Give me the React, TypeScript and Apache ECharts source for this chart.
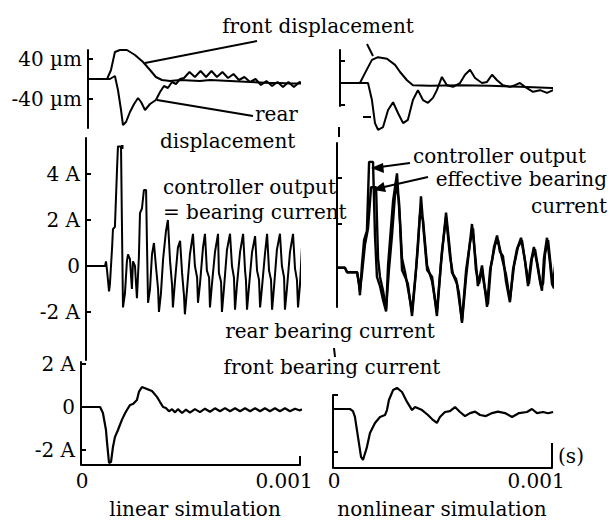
import React, { useEffect, useRef } from 'react';
import * as echarts from 'echarts';

// time in microseconds: 0 .. 1000 µs  (= 0 .. 0.001 s)
const timeTicks = [0, 1000];
const timeTickLabels = ['0', '0.001'];

const dispTicks = [40, -40];
const dispTickLabels = ['40 µm', '-40 µm'];
const currTicks = [4, 2, 0, -2];
const currTickLabels = ['4 A', '2 A', '0', '-2 A'];
const frontTicks = [2, -2];
const frontLabelValues = [2, 0, -2];
const frontTickLabels = ['2 A', '0', '-2 A'];
const nonDispTicks = [40, -40];
const nonCurrTicks = [4, 2];
const nonFrontTicks = [0.65, -2];

// ---- displacement (µm) ----
const linFrontDisp = [[28,0],[115,0],[133,18],[151,54],[174,58],[206,58],[243,48],[280,34],[312,18],[339,4],[367,-2],[404,-4],[450,-2],[495,-3],[541,-4],[587,-2],[633,-3],[679,-4],[725,-5],[771,-6],[817,-7],[862,-8],[908,-8],[954,-9],[1000,-9],[1032,-9]];
const linRearDisp = [[28,0],[128,0],[151,6],[165,-22],[179,-62],[188,-92],[202,-86],[220,-66],[239,-50],[257,-38],[271,-46],[289,-62],[312,-50],[339,-42],[358,-26],[376,-14],[394,-18],[413,-6],[431,-10],[450,0],[468,2],[493,14],[518,4],[544,16],[569,4],[594,16],[619,4],[644,14],[670,2],[695,10],[720,-2],[745,4],[771,-6],[796,0],[821,-12],[846,-4],[872,-14],[897,-6],[922,-16],[947,-6],[972,-16],[998,-6],[1023,-12],[1032,-8]];
const nonFrontDisp = [[28,0],[119,0],[142,18],[174,42],[202,47],[243,44],[280,33],[303,20],[335,5],[362,-4],[440,-5],[578,-4],[716,-5],[853,-7],[1000,-9],[1037,-9]];
const nonRearDisp = [[28,0],[156,0],[174,-31],[188,-73],[202,-85],[225,-80],[248,-49],[271,-35],[294,-55],[317,-73],[339,-67],[362,-31],[385,-13],[408,-31],[431,-36],[454,-27],[472,-13],[495,11],[518,-4],[546,-7],[578,0],[601,15],[624,24],[647,9],[679,0],[702,2],[725,15],[748,5],[775,-4],[807,-7],[830,-4],[853,0],[876,-7],[913,-16],[945,-13],[977,-18],[1005,-13],[1037,-9]];

// ---- rear bearing current (A) ----
const linCurrent = [[18,0],[106,0],[110,0.2],[115,-0.2],[124,-1.1],[128,-0.8],[138,0.8],[142,1.6],[151,1.7],[161,4.3],[165,5.2],[179,5.2],[183,2.0],[188,-1.8],[197,-1.2],[206,0.2],[211,0.5],[220,0.3],[229,-1.0],[234,0.2],[243,0],[252,-1.4],[261,0.4],[266,2.3],[275,2.5],[284,3.3],[294,3.3],[298,1.0],[303,-1.6],[312,-1.0],[321,0.5],[330,1.0],[339,0.0],[349,-1.0],[353,-2.0],[362,-1.2],[372,0.3],[385,1.5],[394,2.0],[404,0.2],[413,-0.8],[417,-1.8],[427,-0.6],[440,0.8],[450,1.1],[459,-0.3],[468,-1.3],[472,-2.1],[482,-1.0],[495,0.5],[509,1.4],[518,0.0],[528,-0.5],[532,-1.6],[541,-0.8],[555,0.8],[564,1.4],[573,-0.2],[583,-0.5],[587,-1.8],[596,-0.8],[610,0.6],[624,1.4],[628,-0.3],[638,-0.7],[642,-2.0],[651,-1.0],[665,0.7],[679,1.4],[688,0.0],[697,-0.5],[702,-1.9],[711,-0.8],[725,0.6],[739,1.4],[748,-0.2],[752,-0.6],[757,-1.9],[766,-0.9],[780,0.6],[794,1.3],[803,-0.2],[812,-0.6],[817,-1.8],[826,-0.9],[839,0.5],[849,1.4],[858,-0.2],[867,-0.6],[872,-1.9],[881,-0.9],[894,0.7],[908,1.4],[917,0.0],[927,-0.5],[931,-1.9],[940,-1.0],[954,0.6],[968,1.4],[977,-0.1],[986,-0.6],[991,-1.8],[1000,-0.8],[1009,0.8],[1018,1.4]];
const nonController = [[14,0.1],[50,0.1],[60,-0.1],[106,-0.1],[115,-0.6],[119,-1.1],[128,0.2],[138,1.3],[151,1.7],[161,4.7],[179,4.7],[188,1.5],[197,-0.3],[211,-0.7],[225,-1.3],[239,-1.8],[248,0.2],[257,1.3],[271,3.0],[289,4.2],[303,2.0],[312,0.0],[326,-0.3],[339,-0.6],[358,-2.0],[372,-0.5],[385,1.0],[399,3.2],[413,1.5],[427,0.0],[450,-0.3],[472,-2.0],[491,0.3],[514,2.5],[528,1.2],[541,-0.1],[560,-0.4],[573,-1.0],[587,-2.3],[606,-0.3],[619,0.8],[633,2.0],[651,0.3],[660,-0.7],[679,0.2],[688,-0.5],[702,-1.6],[716,0.0],[725,0.4],[734,1.0],[748,1.5],[761,0.8],[775,0.6],[789,-0.5],[807,-1.4],[821,0.0],[839,0.9],[858,1.4],[876,0.4],[890,-0.7],[904,0.4],[917,1.0],[931,0.3],[945,-0.5],[954,-0.9],[963,0.5],[977,1.4],[991,0.3],[1000,-0.6],[1009,-0.8],[1018,0.5]];
const nonEffective = [[14,0.1],[50,0.1],[60,-0.1],[106,-0.1],[119,-0.9],[128,-0.2],[142,1.1],[156,1.8],[170,3.6],[193,3.6],[202,0.5],[211,-0.3],[225,-0.9],[239,-1.7],[252,0.0],[266,1.5],[284,3.8],[298,3.0],[312,0.5],[326,-0.1],[339,-0.8],[358,-1.8],[376,0.0],[394,2.4],[408,2.2],[427,0.2],[450,-0.5],[472,-1.8],[495,0.8],[514,2.3],[532,0.6],[546,-0.2],[564,-0.6],[587,-2.2],[606,0.0],[624,1.2],[638,1.8],[651,0.0],[665,-0.6],[679,0.0],[688,-0.6],[706,-1.5],[720,0.2],[739,1.1],[752,1.3],[771,0.5],[789,-0.2],[807,-1.3],[826,0.2],[844,1.0],[862,1.3],[881,0.1],[894,-0.6],[908,0.5],[922,0.9],[936,0.1],[950,-0.7],[959,-0.6],[968,0.7],[982,1.3],[995,0.1],[1005,-0.7],[1018,0.6]];

// ---- front bearing current (A) ----
const linFrontCurrent = [[0,0],[83,0],[96,-0.28],[110,-1.07],[115,-1.67],[124,-2.6],[133,-2.56],[142,-1.86],[151,-1.4],[165,-1.07],[183,-0.6],[197,-0.3],[206,-0.14],[220,0.09],[234,0.14],[252,0.33],[261,0.7],[275,0.93],[298,0.84],[321,0.74],[344,0.47],[358,0.23],[372,0.0],[385,-0.05],[399,-0.2],[413,-0.1],[427,-0.25],[440,-0.1],[459,-0.28],[477,-0.12],[495,-0.26],[518,-0.1],[541,-0.24],[564,-0.08],[587,-0.22],[610,-0.06],[633,-0.2],[656,-0.05],[679,-0.2],[702,-0.06],[725,-0.2],[748,-0.06],[771,-0.2],[794,-0.06],[817,-0.2],[839,-0.06],[862,-0.2],[885,-0.06],[908,-0.2],[931,-0.06],[954,-0.2],[977,-0.08],[1000,-0.16],[1009,-0.1]];
const nonFrontCurrent = [[0,0],[73,0],[87,-0.1],[96,-0.37],[110,-1.3],[124,-2.23],[133,-2.37],[151,-1.77],[165,-1.12],[188,-0.65],[211,-0.37],[234,-0.28],[243,-0.05],[252,0.42],[271,0.88],[289,0.98],[312,0.79],[335,0.33],[358,-0.05],[372,0.09],[404,-0.05],[431,-0.28],[454,-0.51],[472,-0.65],[486,-0.37],[509,-0.14],[532,-0.1],[555,0.09],[578,-0.14],[601,-0.33],[624,-0.19],[647,-0.12],[670,-0.28],[697,-0.33],[725,-0.19],[752,-0.12],[784,-0.19],[817,-0.37],[849,-0.19],[885,-0.14],[908,0.0],[931,-0.19],[959,-0.14],[982,-0.2],[1005,-0.14]];

const FONT = 'DejaVu Serif';
const BLACK = '#000';

function yAx(gridIndex: number, min: number, max: number, offset: number, ticks: number[], labelValues?: number[], labels?: string[]) {
  return {
    type: 'value', gridIndex, min, max, offset,
    splitLine: { show: false },
    axisLine: { show: true, onZero: false, lineStyle: { color: BLACK, width: 2 } },
    axisTick: { show: true, inside: true, length: 5, customValues: ticks, lineStyle: { color: BLACK, width: 2 } },
    axisLabel: labels
      ? { show: true, customValues: labelValues, margin: 6, color: BLACK, fontFamily: FONT, fontSize: 20,
          formatter: (v: number) => labels[labelValues!.indexOf(v)] ?? '' }
      : { show: false },
  };
}

function xAx(gridIndex: number, show: boolean, tickLen = 8, margin = 6) {
  return {
    type: 'value', gridIndex, min: 0, max: 1000, show,
    splitLine: { show: false },
    axisLine: { show: true, onZero: false, lineStyle: { color: BLACK, width: 2 } },
    axisTick: { show: true, inside: true, length: tickLen, customValues: [timeTicks[1]], lineStyle: { color: BLACK, width: 2 } },
    axisLabel: {
      show: true, customValues: timeTicks, margin, color: BLACK, fontFamily: FONT, fontSize: 20,
      formatter: (v: number) => (v === timeTicks[1] ? '{r|' + timeTickLabels[1] + '}' : timeTickLabels[0]),
      rich: { r: { padding: [0, 32, 0, 0], color: BLACK, fontFamily: FONT, fontSize: 20 } },
    },
  };
}

function ser(name: string, data: number[][], idx: number, width: number) {
  return {
    type: 'line', name, data, xAxisIndex: idx, yAxisIndex: idx,
    showSymbol: false, symbol: 'none', clip: false, silent: true,
    lineStyle: { color: BLACK, width }, z: 3,
  };
}

function txt(text: string, x: number, y: number, align = 'center') {
  return { type: 'text', x, y, silent: true, style: { text, fill: BLACK, fontFamily: FONT, fontSize: 20, align, verticalAlign: 'middle' } };
}
function ln(x1: number, y1: number, x2: number, y2: number, w = 2) {
  return { type: 'line', silent: true, shape: { x1, y1, x2, y2 }, style: { stroke: BLACK, lineWidth: w } };
}
function tri(points: number[][]) {
  return { type: 'polygon', silent: true, shape: { points }, style: { fill: BLACK } };
}

export default function App() {
  const ref = useRef<HTMLDivElement>(null);
  useEffect(() => {
    if (!ref.current) return;
    const chart = echarts.init(ref.current, null, { renderer: 'svg' });
    const grids = [
      { left: 82, top: 50, width: 218, height: 78 },
      { left: 334, top: 50, width: 218, height: 56 },
      { left: 82, top: 138, width: 218, height: 222 },
      { left: 334, top: 143, width: 218, height: 164 },
      { left: 82, top: 362, width: 218, height: 103 },
      { left: 334, top: 395, width: 218, height: 73 },
    ].map((g) => ({ ...g, outerBoundsMode: 'none', containLabel: false, show: false }));
    chart.setOption({
      animation: false,
      backgroundColor: '#fff',
      textStyle: { fontFamily: FONT, color: BLACK },
      grid: grids,
      xAxis: [
        xAx(0, false), xAx(1, false), xAx(2, false), xAx(3, false),
        xAx(4, true, 9, 6), xAx(5, true, 25, 3),
      ],
      yAxis: [
        yAx(0, -98, 58, -6, dispTicks, dispTicks, dispTickLabels),
        yAx(1, -41.8, 60, -6, nonDispTicks),
        yAx(2, -4.087, 5.565, -4, currTicks, currTicks, currTickLabels),
        yAx(3, -1.609, 5.522, -3, nonCurrTicks),
        yAx(4, -2.698, 2.093, 1, frontTicks, frontLabelValues, frontTickLabels),
        yAx(5, -2.744, 0.651, 1, nonFrontTicks),
      ],
      series: [
        ser('front displacement (linear)', linFrontDisp, 0, 2),
        ser('rear displacement (linear)', linRearDisp, 0, 2),
        ser('front displacement (nonlinear)', nonFrontDisp, 1, 2),
        ser('rear displacement (nonlinear)', nonRearDisp, 1, 2),
        ser('rear bearing current (linear)', linCurrent, 2, 2),
        ser('controller output (nonlinear)', nonController, 3, 2.4),
        ser('effective bearing current (nonlinear)', nonEffective, 3, 2.4),
        ser('front bearing current (linear)', linFrontCurrent, 4, 2.2),
        ser('front bearing current (nonlinear)', nonFrontCurrent, 5, 2.2),
      ],
      graphic: [
        txt('front displacement', 318, 26),
        txt('rear', 255, 114, 'left'),
        txt('displacement', 160, 141, 'left'),
        txt('controller output', 163, 187, 'left'),
        txt('= bearing current', 163, 212, 'left'),
        txt('controller output', 413, 156, 'left'),
        txt('effective bearing', 607, 179, 'right'),
        txt('current', 607, 206, 'right'),
        txt('rear bearing current', 330, 331),
        txt('front bearing current', 332, 367),
        txt('linear simulation', 195, 509),
        txt('nonlinear simulation', 442, 509),
        txt('(s)', 571, 456),
        ln(257, 41, 145, 63),
        ln(367, 44, 373, 56),
        ln(253, 116, 157, 100),
        ln(363, 117, 371, 117),
        ln(410, 163, 380, 167),
        tri([[371, 168], [383, 163], [384, 173]]),
        ln(428, 177, 384, 187),
        tri([[373, 190], [386, 192], [383.5, 182]]),
        { type: 'rect', silent: true, shape: { x: 121, y: 145, width: 2.5, height: 4 }, style: { fill: BLACK } },
        ln(339, 127, 339, 137),
        ln(334, 348, 335, 357),
      ],
    });
    return () => chart.dispose();
  }, []);
  return <div ref={ref} style={{ position: 'fixed', left: 0, top: 0, width: 611, height: 525, background: '#fff' }} />;
}
